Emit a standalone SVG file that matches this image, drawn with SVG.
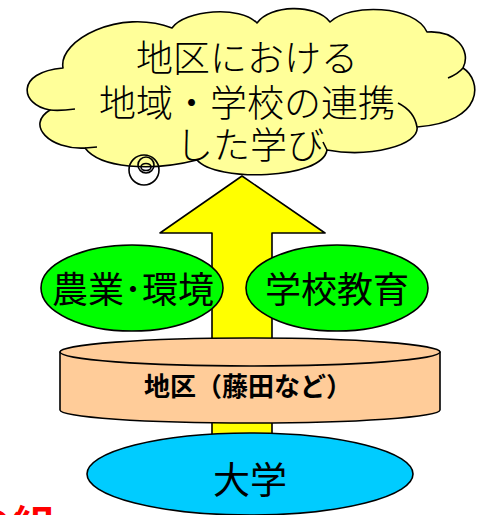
<svg xmlns="http://www.w3.org/2000/svg" width="477" height="515" viewBox="0 0 477 515">
<style>
.ol{stroke:#000;stroke-width:1.6;stroke-linejoin:round}
.t{font-family:"Noto Sans CJK JP","Noto Sans CJK SC",sans-serif;fill:#000;text-anchor:middle}
</style>
<rect width="477" height="515" fill="#fff"/>
<g id="connectors">
  <path class="ol" fill="#FFFF00" d="M212,450 L212,233 L160,233 L242,176 L325,233 L272,233 L272,450 Z"/>
</g>
<g id="cloud">
  <path class="ol" fill="#FFFF99" d="M63,68 C58,40 120,8 172,28 C185,10 240,5 257,23 C270,5 315,3 330,22 C350,3 415,5 427,32 C455,30 472,50 463,68 C482,80 485,122 417,127 C420,145 370,158 327,150 C322,180 215,182 197,160 C150,172 100,168 85,148 C50,150 25,125 50,110 C20,105 15,72 63,68 Z"/>
  <path class="ol" fill="none" d="M463,68 Q458,74 448,78 M417,127 C415,115 408,108 398,103 M327,150 L323,142 M85,148 L97,147 M50,110 Q60,111 75,109"/>
  <circle cx="144" cy="170" r="15" fill="none" class="ol"/>
  <circle cx="146" cy="165" r="8" fill="none" class="ol"/>
  <ellipse cx="146" cy="167" rx="5" ry="3.5" fill="none" class="ol"/>
  <text class="t" font-size="37" font-weight="300" x="247" y="72">地区における</text>
  <text class="t" font-size="37" font-weight="300" x="247" y="117">地域・学校の連携</text>
  <text class="t" font-size="37" font-weight="300" x="250" y="159">した学び</text>
</g>
<g id="agri">
  <ellipse class="ol" fill="#00FF00" cx="132" cy="288" rx="91" ry="43"/>
  <text class="t" font-size="36" x="133" y="303">農業･環境</text>
</g>
<g id="school">
  <ellipse class="ol" fill="#00FF00" cx="337" cy="288" rx="91" ry="43"/>
  <text class="t" font-size="36" x="337" y="303">学校教育</text>
</g>
<g id="region">
  <path class="ol" fill="#FFCC99" d="M60,352 L60,410 A190,13 0 0 0 440,410 L440,352 Z"/>
  <ellipse class="ol" fill="#FFCC99" cx="250" cy="352" rx="190" ry="14"/>
  <text class="t" font-size="26" font-weight="bold" x="248" y="396">地区（藤田など）</text>
</g>
<g id="univ">
  <ellipse class="ol" fill="#00CCFF" cx="250" cy="474" rx="163" ry="41"/>
  <text class="t" font-size="37" x="250" y="494">大学</text>
</g>
<text font-family="Noto Sans CJK JP, sans-serif" font-size="42" font-weight="bold" fill="#FF0000" x="-29" y="541">の組</text>
</svg>
